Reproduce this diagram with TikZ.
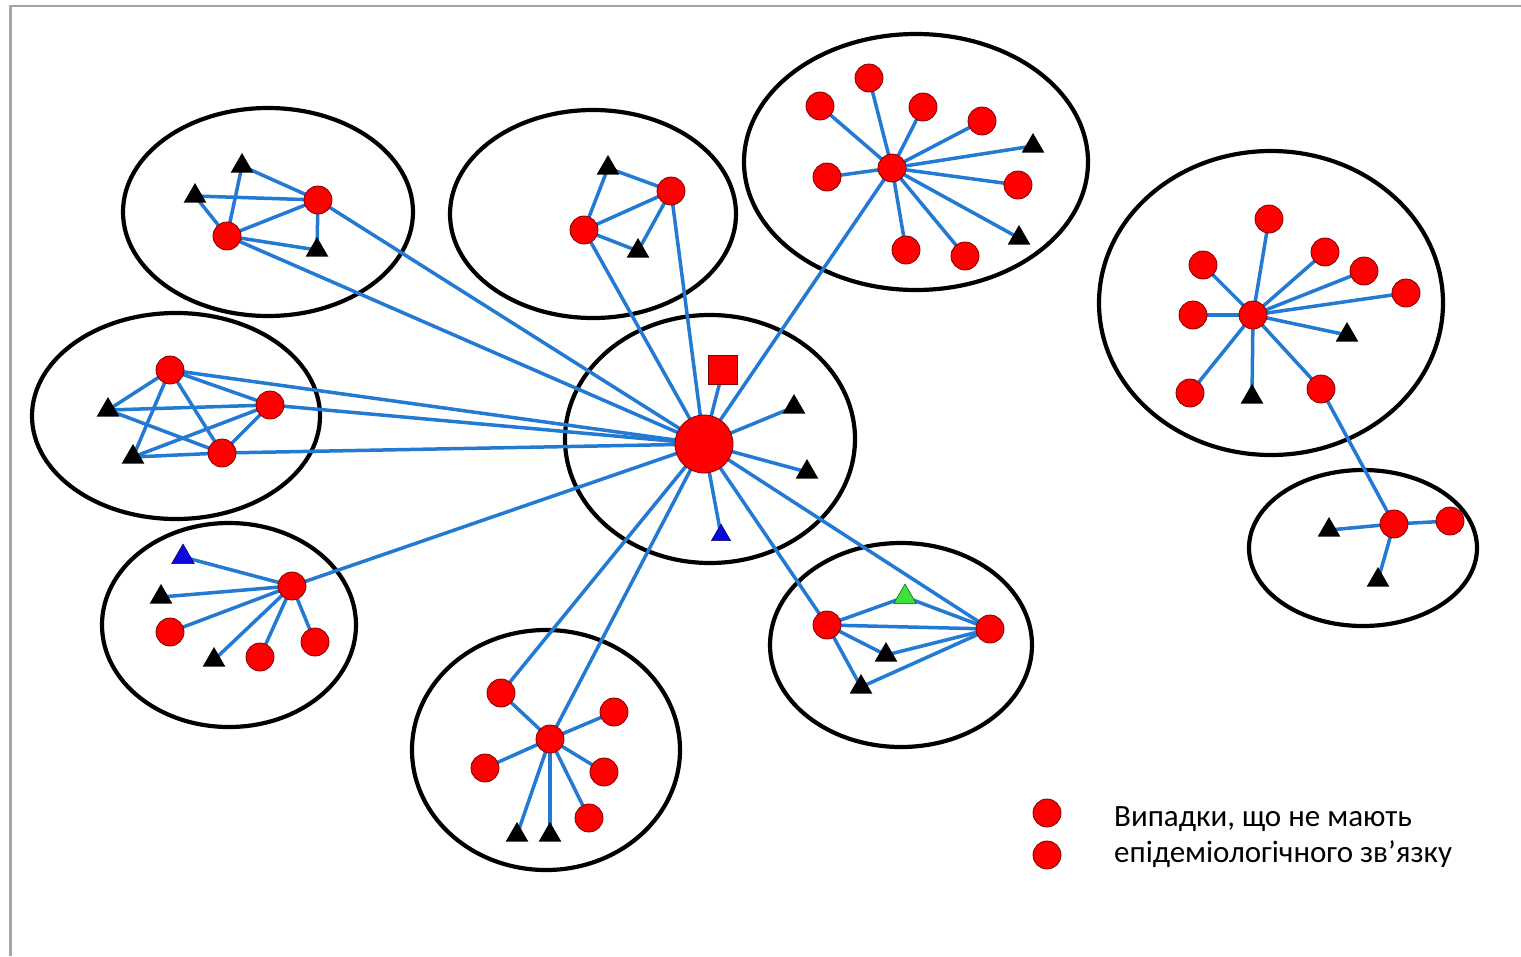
\documentclass[tikz,border=0pt]{standalone}
\usepackage{fontspec}
\setmainfont{Carlito}
\usetikzlibrary{shapes.geometric}
\pgfdeclarelayer{ell}
\pgfdeclarelayer{edges}
\pgfsetlayers{ell,edges,main}
\definecolor{lnk}{RGB}{35,122,210}
\definecolor{frm}{RGB}{165,165,165}
\tikzset{
  rd/.style={circle,fill=red,draw=red!50!black,line width=0.8pt,minimum size=28pt,inner sep=0pt},
  hubnode/.style={rd,minimum size=58pt},
  sqnode/.style={rectangle,fill=red,draw=red!50!black,line width=0.8pt,minimum size=29pt,inner sep=0pt},
  tri/.style={regular polygon,regular polygon sides=3,fill=black,minimum size=26pt,inner sep=0pt},
  btri/.style={tri,fill={rgb,255:red,10;green,10;blue,220},draw=blue!40!black,line width=0.5pt},
  gtri/.style={tri,fill={rgb,255:red,60;green,225;blue,60},draw=green!35!black,line width=0.5pt},
  lk/.style={draw=lnk,line width=3.5pt},
  cl/.style={draw=black,line width=4.2pt},
}
\begin{document}
\begin{tikzpicture}[x=1pt,y=-1pt]
\useasboundingbox (0,0) rectangle (1521,956);

% ---------- nodes ----------
% centre
\node[hubnode] (H) at (704,444) {};
\node[sqnode] (sq) at (723,370) {};
\node[tri] (et1) at (794,407) {};
\node[tri] (et2) at (807,472) {};
\node[btri,minimum size=22pt] (ebt) at (721,535) {};
% A top-left
\node[rd] (a1) at (318,200) {};
\node[rd] (a2) at (227,236) {};
\node[tri] (at1) at (242,166) {};
\node[tri] (at2) at (195,196) {};
\node[tri] (at3) at (317,250) {};
% B left
\node[rd] (b1) at (170,370) {};
\node[rd] (b2) at (270,405) {};
\node[rd] (b3) at (222,453) {};
\node[tri] (bt1) at (108,410) {};
\node[tri] (bt2) at (133,457) {};
% C top-centre
\node[rd] (c1) at (671,191) {};
\node[rd] (c2) at (584,230) {};
\node[tri] (ct1) at (608,168) {};
\node[tri] (ct2) at (638,251) {};
% D top-right
\node[rd] (d0) at (892,168) {};
\node[rd] (d1) at (820,106) {};
\node[rd] (d2) at (869,78) {};
\node[rd] (d3) at (923,107) {};
\node[rd] (d4) at (982,121) {};
\node[tri] (d5) at (1033,146) {};
\node[rd] (d6) at (1018,185) {};
\node[tri] (d7) at (1019,238) {};
\node[rd] (d8) at (965,256) {};
\node[rd] (d9) at (906,250) {};
\node[rd] (d10) at (827,177) {};
% F bottom-left
\node[rd] (f0) at (292,586) {};
\node[btri] (f1) at (183,557) {};
\node[tri] (f2) at (161,597) {};
\node[rd] (f3) at (170,632) {};
\node[tri] (f4) at (214,660) {};
\node[rd] (f5) at (260,657) {};
\node[rd] (f6) at (315,642) {};
% G bottom-centre
\node[rd] (g0) at (550,739) {};
\node[rd] (g1) at (501,693) {};
\node[rd] (g2) at (614,712) {};
\node[rd] (g3) at (485,768) {};
\node[rd] (g4) at (604,772) {};
\node[rd] (g5) at (589,818) {};
\node[tri] (g6) at (517,835) {};
\node[tri] (g7) at (550,835) {};
% K bottom-right
\node[rd] (k1) at (827,625) {};
\node[rd] (k2) at (990,629) {};
\node[gtri] (kg) at (905,597) {};
\node[tri] (kt1) at (886,655) {};
\node[tri] (kt2) at (861,687) {};
% M right big
\node[rd] (m0) at (1253,315) {};
\node[rd] (m1) at (1269,219) {};
\node[rd] (m2) at (1325,252) {};
\node[rd] (m3) at (1364,271) {};
\node[rd] (m4) at (1406,293) {};
\node[tri] (m5) at (1347,335) {};
\node[rd] (m6) at (1321,389) {};
\node[tri] (m7) at (1252,397) {};
\node[rd] (m8) at (1190,393) {};
\node[rd] (m9) at (1193,315) {};
\node[rd] (m10) at (1203,265) {};
% N small right
\node[rd] (n0) at (1394,524) {};
\node[rd] (n1) at (1450,521) {};
\node[tri] (n2) at (1329,530) {};
\node[tri] (n3) at (1378,580) {};
% legend
\node[rd] (l1) at (1047,813) {};
\node[rd] (l2) at (1047,855) {};
\node[anchor=base west,inner sep=0pt,font=\fontsize{31}{36}\selectfont] (t1) at (1114,826) {Випадки, що не мають};
\node[anchor=base west,inner sep=0pt,font=\fontsize{31}{36}\selectfont] (t2) at (1114,862) {епідеміологічного зв’язку};

% ---------- background, frame and ellipses ----------
\begin{pgfonlayer}{ell}
\fill[white] (0,0) rectangle (1521,956);
\draw[frm,line width=2.5pt] (10.5,956) -- (10.5,6) -- (1521,6);
\draw[cl] (268,212) ellipse [x radius=145pt,y radius=104pt];
\draw[cl] (176,416) ellipse [x radius=144pt,y radius=103pt];
\draw[cl] (593,214) ellipse [x radius=143pt,y radius=104pt];
\draw[cl] (916,162) ellipse [x radius=172pt,y radius=128pt];
\draw[cl] (710,439) ellipse [x radius=145pt,y radius=124pt];
\draw[cl] (229,625) ellipse [x radius=127pt,y radius=102pt];
\draw[cl] (546,750) ellipse [x radius=134pt,y radius=120pt];
\draw[cl] (901,645) ellipse [x radius=131pt,y radius=102pt];
\draw[cl] (1271,303) ellipse [x radius=172pt,y radius=152pt];
\draw[cl] (1363,548) ellipse [x radius=114pt,y radius=78pt];
\end{pgfonlayer}

% ---------- links ----------
\begin{pgfonlayer}{edges}
\foreach \u/\v in {H/sq,H/et1,H/et2,H/ebt,
  at1/a1,at1/a2,at2/a1,at2/a2,a1/a2,a2/at3,a1/at3,a1/H,a2/H,
  b1/bt1,b1/bt2,b1/b2,b1/b3,bt1/b2,bt1/b3,bt2/b2,bt2/b3,b2/b3,b1/H,b2/H,b3/H,
  ct1/c1,ct1/c2,c1/c2,c2/ct2,c1/ct2,c1/H,c2/H,
  d0/d1,d0/d2,d0/d3,d0/d4,d0/d5,d0/d6,d0/d7,d0/d8,d0/d9,d0/d10,d0/H,
  f0/f1,f0/f2,f0/f3,f0/f4,f0/f5,f0/f6,f0/H,
  g0/g1,g0/g2,g0/g3,g0/g4,g0/g5,g0/g6,g0/g7,g0/H,g1/H,
  k1/kg,k1/k2,k1/kt1,k1/kt2,kg/k2,kt1/k2,kt2/k2,k1/H,k2/H,
  m0/m1,m0/m2,m0/m3,m0/m4,m0/m5,m0/m6,m0/m7,m0/m8,m0/m9,m0/m10,
  m6/n0,n0/n1,n0/n2,n0/n3}
  \draw[lk] (\u.center) -- (\v.center);
\end{pgfonlayer}
\end{tikzpicture}
\end{document}
